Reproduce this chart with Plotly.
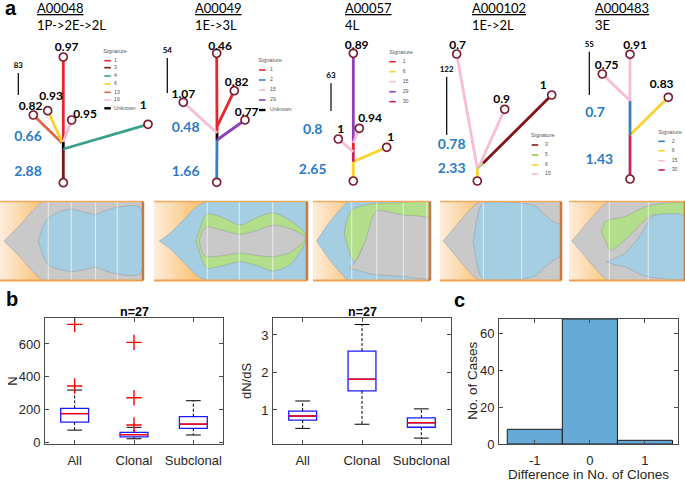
import plotly.graph_objects as go

W, H = 685, 482

# ======================= DATA =======================
# ---- panel b (left): number of mutations ----
box_categories = ["All", "Clonal", "Subclonal"]
n_q1 = [122, 32, 84]
n_median = [174, 45, 110]
n_q3 = [206, 59, 155]
n_lower = [73, 20, 43]
n_upper = [318, 90, 253]
n_outliers = [[343, 720], [104, 271, 610], []]

# ---- panel b (right): dN/dS ----
dnds_q1 = [0.73, 1.51, 0.54]
dnds_median = [0.84, 1.82, 0.66]
dnds_q3 = [0.97, 2.57, 0.79]
dnds_lower = [0.51, 0.62, 0.25]
dnds_upper = [1.24, 3.28, 1.03]

# ---- panel c: histogram ----
clone_diff = [-1, 0, 1]
n_cases = [8, 68, 2]

# ---- panel a: trees (local layout units) ----
tree_ids = ["A00048", "A00049", "A00057", "A000102", "A000483"]
tree_paths = ["1P->2E->2L", "1E->3L", "4L", "1E->2L", "3E"]

tree1_edges = [(63.3, 7.3, 63.3, 41, "3"), (63.3, 41, 63.3, 48.3, "Unknown"),
               (63.3, 48.3, 63.3, 133, "1"), (63.3, 41, 148, 65.7, "4"),
               (62, 47, 33.3, 75, "13"), (62, 48, 47.7, 79.3, "6"),
               (63.3, 48.3, 71.7, 70, "16")]
tree1_nodes = [(63.3, 7.3), (63.3, 133), (148, 65.7), (33.3, 75), (47.7, 79.3), (71.7, 70)]
tree1_labels = [("0.97", 66.7, 142.3), ("1", 143.3, 84), ("0.82", 30.5, 83),
                ("0.93", 51, 92.7), ("0.95", 85, 75)]
tree1_scale = ("83", 18.3, 95, 117)
tree1_blue = [("0.66", 28, 53), ("2.88", 28, 18)]
tree1_sigs = ["1", "3", "4", "6", "13", "16", "Unknown"]
tree1_legend_rows = [129.3, 122.3, 114, 106, 97.7, 90, 81.7]

tree2_edges = [(56.7, 7.7, 57, 50, "2"), (57, 50, 57, 57, "Unknown"),
               (57, 57, 56.7, 136.7, "1"), (57, 63.3, 74.3, 99.3, "1"),
               (57, 57, 23.3, 87.7, "15"), (57, 50, 85, 70, "29")]
tree2_nodes = [(56.7, 7.7), (56.7, 136.7), (74.3, 99.3), (23.3, 87.7), (85, 70)]
tree2_labels = [("0.46", 60, 143.3), ("0.82", 76.7, 106.7), ("1.07", 23.3, 95), ("0.77", 86.7, 77.3)]
tree2_scale = ("54", 7.3, 97, 132)
tree2_blue = [("0.48", 25.7, 62), ("1.66", 25.7, 18)]
tree2_sigs = ["1", "2", "15", "29", "Unknown"]
tree2_legend_rows = [120, 110, 100, 90, 80]

tree3_edges = [(53.3, 9, 53.3, 28.3, "6"), (53.3, 28.3, 86.7, 42.7, "6"),
               (53.3, 28.3, 53.3, 38.3, "30"), (53.3, 38.3, 53.3, 47, "1"),
               (53.3, 38.3, 38.3, 51, "15"), (53.3, 47, 53.3, 136.7, "29"),
               (53.3, 47, 59.3, 61.7, "15")]
tree3_nodes = [(53.3, 9), (86.7, 42.7), (38.3, 51), (53.3, 136.7), (59.3, 61.7)]
tree3_labels = [("1", 90.7, 51.7), ("1", 40.7, 60), ("0.89", 56.7, 144.3), ("0.94", 70, 71)]
tree3_scale = ("63", 31, 79, 106.7)
tree3_blue = [("0.8", 12.7, 59.3), ("2.65", 12.7, 19.3)]
tree3_sigs = ["1", "6", "15", "29", "30"]
tree3_legend_rows = [128.3, 118.3, 108.3, 98.3, 88.3]

tree4_edges = [(47.3, 9, 47.3, 21.7, "6"), (47.3, 21.7, 53, 26.7, "5"),
               (53, 26.7, 121.7, 95, "3"), (47.3, 21.7, 26.7, 136, "15"),
               (49, 23.5, 74.7, 80.7, "15")]
tree4_nodes = [(47.3, 9), (121.7, 95), (26.7, 136), (74.7, 80.7)]
tree4_labels = [("0.7", 27.7, 144.3), ("0.9", 71.7, 90), ("1", 113.3, 104)]
tree4_scale = ("122", 16.7, 55, 113.3)
tree4_blue = [("0.78", 21.7, 45), ("2.33", 21.7, 20.7)]
tree4_sigs = ["3", "5", "6", "15"]
tree4_legend_rows = [45, 35, 25, 16]

tree5_edges = [(70, 11, 70, 55, "30"), (70, 55, 108.3, 92.7, "6"),
               (70, 55, 70, 89.3, "2"), (70, 89.3, 70, 135.7, "15"),
               (70, 89.3, 42.3, 116, "15")]
tree5_nodes = [(70, 11), (108.3, 92.7), (70, 135.7), (42.3, 116)]
tree5_labels = [("0.91", 75, 144.3), ("0.75", 46.7, 124.3), ("0.83", 101.7, 105)]
tree5_scale = ("55", 29.3, 95, 138.3)
tree5_blue = [("0.7", 35, 76.7), ("1.43", 39.3, 30)]
tree5_sigs = ["2", "6", "15", "30"]
tree5_legend_rows = [48.7, 39.3, 29.3, 20]

# ---- panel a: fish plots (clone outlines: x, upper edge, lower edge) ----
fish1_layers = [
    ("founder", [4, 10, 20, 30, 38, 43, 143], [39.5, 33.5, 23.5, 12, 4, 0, 0], [39.5, 45.5, 55.5, 67, 75, 79, 79]),
    ("cloneB", [38.3, 41, 44, 48.3, 60, 71.7, 83, 95, 106, 116.7, 140],
     [39.5, 31, 23, 16.8, 10, 7.5, 10.5, 12.8, 9, 5.8, 5.8],
     [39.5, 48, 56, 63.5, 68, 70.2, 68.5, 65.8, 69.5, 72.5, 72.5]),
]
fish2_layers = [
    ("cloneB", [5.3, 16, 29.3, 42.7, 52.7, 153], [39.5, 31.8, 18.5, 5.2, 0, 0], [39.5, 47.2, 60.5, 73.8, 79, 79]),
    ("cloneG", [42, 45, 49, 53.3, 66, 86, 103, 119.3, 136, 151],
     [39.5, 30, 18, 12.5, 15, 23.5, 16, 11.2, 19, 31.8],
     [39.5, 49, 61, 66.8, 65, 60.2, 64, 69.5, 63, 41.8]),
    ("founder", [45.3, 49, 53.3, 66, 86, 103, 119.3, 136, 151],
     [39.5, 28, 25.2, 28, 32.8, 29, 23.5, 27, 35.2],
     [39.5, 53, 55.2, 54.5, 51.8, 54, 55.2, 51, 38.5]),
]
fish3_layers = [
    ("cloneB", [3.7, 12, 22, 30, 35.3, 117], [39.5, 27, 14, 5, 0, 0], [39.5, 52, 65, 74, 79, 79]),
    ("cloneG", [31.3, 33, 35.3, 38.7, 42, 44, 50, 60, 80, 117],
     [31.8, 22, 14, 8.5, 6.5, 5.8, 4, 2, 1.5, 1.5],
     [31.8, 40, 46.8, 56.8, 60.2, 58, 45, 30, 20, 20]),
    ("founder", [36.3, 43.7, 53.7, 60.3, 65.3, 90.3, 117],
     [66.8, 58.5, 35.2, 13.5, 9.2, 13.5, 17.8],
     [66.8, 68.5, 71.5, 73, 73.5, 75, 75.8]),
]
fish4_layers = [
    ("founder", [3.3, 12, 22, 32, 40, 121], [39.5, 29, 17, 6, 0, 0], [39.5, 50, 62, 73, 79, 79]),
    ("cloneB", [33.3, 36, 39, 43.3, 81.7, 95, 105, 113, 120.7],
     [39.5, 22, 8, 1.5, 1.5, 4.5, 13.5, 20, 23.5],
     [39.5, 57, 71, 77.5, 77.5, 74.5, 65.5, 59, 54]),
]
fish5_layers = [
    ("founder", [2.7, 11, 21, 31, 39.3, 116], [39.5, 30, 18, 7, 0, 0], [39.5, 49, 61, 72, 79, 79]),
    ("cloneG", [32, 36, 41, 46, 56, 72.7, 82.7, 116],
     [30.8, 20.2, 17.8, 17, 15.2, 6.8, 3.5, 1.8],
     [30.8, 38.5, 48.5, 46.8, 38.5, 21.8, 13.5, 15.2]),
    ("cloneB", [37.7, 46, 56, 72.7, 82.7, 91, 116],
     [60.2, 56.8, 51.8, 31.8, 15.2, 12.8, 14.5],
     [60.2, 63.5, 65.2, 73.5, 76, 76.8, 76.8]),
]
fish1_samples = [48.3, 71.3, 95.5, 117.3]
fish2_samples = [53.3, 85.3, 118.7]
fish3_samples = [38.7, 63.7, 90.3, 113.7]
fish4_samples = [43.3, 81.7]
fish5_samples = [40.3, 79.3]
fish1_ccf = ["1", "0.97", "0.95", "0.93", "0.82"]
fish2_ccf = ["0.77", "0.46", "1.07", "0.82"]
fish3_ccf = ["1", "1", "0.94", "0.89"]
fish4_ccf = ["0.7", "0.9", "1"]
fish5_ccf = ["0.83", "0.75", "0.91"]
fish1_ccf_x = [45.7, 71, 94.3, 118.3, 145]
fish2_ccf_x = [52.7, 82, 115.3, 142.7]
fish3_ccf_x = [38, 62, 85.3, 113.7]
fish4_ccf_x = [44, 78.3, 115]
fish5_ccf_x = [41, 72.7, 102.7]

# ======================= STYLE =======================
SIG_COLORS = {"1": "#E8262A", "2": "#3B7FC0", "3": "#7F1518", "4": "#3AA08C",
              "5": "#8CCB47", "6": "#F9D22C", "13": "#E0684B", "15": "#F8BDD6",
              "16": "#F8BDD6", "29": "#8F3FB8", "30": "#C8245C", "Unknown": "#000000"}
CLONE_COLORS = {"founder": "#C9C9C9", "cloneB": "#A6CEE3", "cloneG": "#B3DE8C"}
FONT_A = "Lato, 'Open Sans', sans-serif"
FONT_M = "'Liberation Sans', Arial, sans-serif"
AX_COL = "#262626"

tree_frames = [(0, 158), (160, 135), (300, 130), (430, 130), (560, 125)]  # (left px, width px)
tree_title_x = [35, 192.7, 342.7, 470, 592.7]
fish_frames = [(0, 143), (154, 153), (313, 117), (440, 121), (569, 116)]

fig = go.Figure()
layout = dict(width=W, height=H, margin=dict(l=0, r=0, t=0, b=0, autoexpand=False),
              paper_bgcolor="white", plot_bgcolor="rgba(0,0,0,0)", showlegend=False)
annotations, shapes = [], []


def dom_x(a, b):
    return [max(0, a / W), min(1, b / W)]


def dom_y(top, bottom):
    return [max(0, 1 - bottom / H), min(1, 1 - top / H)]


def axname(k):
    return ("x", "y") if k == 1 else (f"x{k}", f"y{k}")


def lkey(k, a):
    return f"{a}axis" if k == 1 else f"{a}axis{k}"


def add(tr, k):
    xa, ya = axname(k)
    tr.update(xaxis=xa, yaxis=ya, hoverinfo="skip")
    fig.add_trace(tr)


# ======================= PANEL B / C =======================
def std_axes(k, xd, yd, xr, yr, xt, xtt, yt):
    common = dict(showline=True, linecolor="#4a4a4a", linewidth=1, mirror="allticks",
                  ticks="inside", ticklen=4, tickcolor="#4a4a4a", showgrid=False, zeroline=False,
                  tickfont=dict(family=FONT_M, size=13, color=AX_COL), fixedrange=True,
                  automargin=False)
    layout[lkey(k, "x")] = dict(domain=xd, anchor=axname(k)[1], range=xr, tickvals=xt,
                                ticktext=xtt, ticklabelstandoff=4, **common)
    layout[lkey(k, "y")] = dict(domain=yd, anchor=axname(k)[0], range=yr, tickvals=yt,
                                ticklabelstandoff=1, **common)


BOX_W = 0.47
CAP = 0.125


def boxplot(k, q1, med, q3, lo, hi, outl):
    for i in range(len(box_categories)):
        xp = i + 1
        add(go.Scatter(x=[xp, xp, None, xp, xp], y=[q3[i], hi[i], None, q1[i], lo[i]], mode="lines",
                       line=dict(color="black", width=1, dash="3px,2px")), k)
        add(go.Scatter(x=[xp - CAP, xp + CAP, None, xp - CAP, xp + CAP],
                       y=[hi[i], hi[i], None, lo[i], lo[i]], mode="lines",
                       line=dict(color="black", width=1)), k)
        add(go.Box(x=[xp], q1=[q1[i]], median=[med[i]], q3=[q3[i]], lowerfence=[q1[i]],
                   upperfence=[q3[i]], width=BOX_W, whiskerwidth=0, boxpoints=False,
                   fillcolor="rgba(255,255,255,0)", line=dict(color="#1a1aff", width=1.3)), k)
        add(go.Scatter(x=[xp - BOX_W / 2, xp + BOX_W / 2], y=[med[i], med[i]], mode="lines",
                       line=dict(color="#ff0000", width=1.4)), k)
        if outl[i]:
            add(go.Scatter(x=[xp] * len(outl[i]), y=outl[i], mode="markers",
                           marker=dict(symbol="cross-thin", size=11,
                                       line=dict(color="#ff0000", width=1.4))), k)


boxplot(1, n_q1, n_median, n_q3, n_lower, n_upper, n_outliers)
std_axes(1, dom_x(45, 223), dom_y(318, 444), [0.5, 3.5], [-12, 759], [1, 2, 3], box_categories, [0, 200, 400, 600])
boxplot(2, dnds_q1, dnds_median, dnds_q3, dnds_lower, dnds_upper, [[], [], []])
std_axes(2, dom_x(273, 451), dom_y(318, 444), [0.5, 3.5], [0.093, 3.453], [1, 2, 3], box_categories, [1, 2, 3])

add(go.Bar(x=clone_diff, y=n_cases, width=1, marker=dict(color="#66AAD7", line=dict(color="#1a1a1a", width=1))), 3)
std_axes(3, dom_x(499, 678), dom_y(319, 444), [-1.65, 1.6], [0, 68], clone_diff, [str(v) for v in clone_diff], [0, 20, 40, 60])


def ann(text, px, py, size, family=FONT_M, color=AX_COL, angle=0, xanchor="center", bold=False):
    t = f"<b>{text}</b>" if bold else text
    annotations.append(dict(text=t, x=px / W, y=1 - py / H, xref="paper", yref="paper",
                            xanchor=xanchor, yanchor="middle", showarrow=False, textangle=angle,
                            font=dict(family=family, size=size, color=color)))


ann("n=27", 134, 311.5, 12.5, bold=True, color="black")
ann("n=27", 362, 311.5, 12.5, bold=True, color="black")
ann("N", 11.7, 381, 13, angle=-90)
ann("dN/dS", 246, 381, 13, angle=-90)
ann("No. of Cases", 471.7, 381, 13.5, angle=-90)
ann("Difference in No. of Clones", 588.5, 474.5, 13.5)
ann("a", 3, 8, 20, family="'Liberation Sans', Arial", color="black", xanchor="left", bold=True)
ann("b", 4, 299, 20, family="'Liberation Sans', Arial", color="black", xanchor="left", bold=True)
ann("c", 452, 300, 20, family="'Liberation Sans', Arial", color="black", xanchor="left", bold=True)

# ======================= PANEL A: TREES =======================
trees = [
    (tree1_edges, tree1_nodes, tree1_labels, tree1_scale, tree1_blue, tree1_sigs, tree1_legend_rows, (103.3, 104.3, 114)),
    (tree2_edges, tree2_nodes, tree2_labels, tree2_scale, tree2_blue, tree2_sigs, tree2_legend_rows, (98.3, 99, 110)),
    (tree3_edges, tree3_nodes, tree3_labels, tree3_scale, tree3_blue, tree3_sigs, tree3_legend_rows, (89.3, 89.3, 102.7)),
    (tree4_edges, tree4_nodes, tree4_labels, tree4_scale, tree4_blue, tree4_sigs, tree4_legend_rows, (101, 101.7, 115)),
    (tree5_edges, tree5_nodes, tree5_labels, tree5_scale, tree5_blue, tree5_sigs, tree5_legend_rows, (98.3, 98.3, 111.7)),
]

for ti, (edges, nodes, labels, scale, blue, sigs, rows, leg) in enumerate(trees):
    k = 4 + ti
    left, w = tree_frames[ti]
    layout[lkey(k, "x")] = dict(domain=dom_x(left, left + w), anchor=f"y{k}", range=[0, w],
                                visible=False, fixedrange=True)
    layout[lkey(k, "y")] = dict(domain=dom_y(40, 190), anchor=f"x{k}", range=[0, 150],
                                visible=False, fixedrange=True)
    for (x1, y1, x2, y2, s) in edges:
        add(go.Scatter(x=[x1, x2], y=[y1, y2], mode="lines",
                       line=dict(color=SIG_COLORS[s], width=2.8)), k)
    add(go.Scatter(x=[n[0] for n in nodes], y=[n[1] for n in nodes], mode="markers",
                   marker=dict(symbol="circle", size=8, color="white",
                               line=dict(color="#7B1E32", width=1.7))), k)
    add(go.Scatter(x=[l[1] for l in labels], y=[l[2] for l in labels],
                   text=[f"<b>{l[0]}</b>" for l in labels], mode="text", cliponaxis=False,
                   textfont=dict(family=FONT_A, size=12, color="black")), k)
    add(go.Scatter(x=[b[1] for b in blue], y=[b[2] for b in blue],
                   text=[f"<b>{b[0]}</b>" for b in blue], mode="text", cliponaxis=False,
                   textfont=dict(family=FONT_A, size=14, color="#2B7BC4")), k)
    lab, sx, sy0, sy1 = scale
    add(go.Scatter(x=[sx, sx], y=[sy0, sy1], mode="lines", line=dict(color="black", width=1.2)), k)
    add(go.Scatter(x=[sx], y=[sy1 + 7], text=[f"<b>{lab}</b>"], mode="text", cliponaxis=False,
                   textfont=dict(family=FONT_A, size=8, color="black")), k)
    tx, lx, txt_x = leg
    add(go.Scatter(x=[tx], y=[rows[0] + 9], text=["Signature"], mode="text", cliponaxis=False,
                   textposition="middle right",
                   textfont=dict(family=FONT_M, size=5.5, color="#555555")), k)
    for s, ry in zip(sigs, rows):
        add(go.Scatter(x=[lx, lx + 6.5], y=[ry, ry], mode="lines",
                       line=dict(color=SIG_COLORS[s], width=2.4 if s == "Unknown" else 1.6)), k)
    add(go.Scatter(x=[txt_x] * len(sigs), y=rows, text=sigs, mode="text", cliponaxis=False,
                   textposition="middle right",
                   textfont=dict(family=FONT_M, size=5.2, color="#555555")), k)
    # titles
    annotations.append(dict(text=f"<u>{tree_ids[ti]}</u>", x=tree_title_x[ti] / W, y=1 - 8 / H,
                            xref="paper", yref="paper", xanchor="left", yanchor="middle",
                            showarrow=False, font=dict(family=FONT_A, size=13, color="black")))
    annotations.append(dict(text=tree_paths[ti], x=tree_title_x[ti] / W, y=1 - 24.5 / H,
                            xref="paper", yref="paper", xanchor="left", yanchor="middle",
                            showarrow=False, font=dict(family=FONT_A, size=13, color="black")))

# ======================= PANEL A: FISH PLOTS =======================
fishes = [
    (fish1_layers, fish1_samples, fish1_ccf, fish1_ccf_x),
    (fish2_layers, fish2_samples, fish2_ccf, fish2_ccf_x),
    (fish3_layers, fish3_samples, fish3_ccf, fish3_ccf_x),
    (fish4_layers, fish4_samples, fish4_ccf, fish4_ccf_x),
    (fish5_layers, fish5_samples, fish5_ccf, fish5_ccf_x),
]
FH = 79
pale = (254, 236, 217)
orange = (251, 198, 122)
NSTRIP = 14
GRAD_W = 42

for fi, (layers, samples, ccf, ccf_x) in enumerate(fishes):
    k = 9 + fi
    left, w = fish_frames[fi]
    layout[lkey(k, "x")] = dict(domain=dom_x(left, left + w), anchor=f"y{k}", range=[0, w],
                                visible=False, fixedrange=True)
    layout[lkey(k, "y")] = dict(domain=dom_y(201.5, 201.5 + FH), anchor=f"x{k}", range=[FH, 0],
                                visible=False, fixedrange=True)
    # background gradient
    for s in range(NSTRIP):
        f = s / (NSTRIP - 1)
        c = tuple(int(pale[j] + (orange[j] - pale[j]) * f) for j in range(3))
        x0 = GRAD_W * s / NSTRIP
        x1 = GRAD_W * (s + 1) / NSTRIP if s < NSTRIP - 1 else w
        shapes.append(dict(type="rect", xref=f"x{k}", yref=f"y{k} domain", x0=x0, x1=x1, y0=0, y1=1,
                           fillcolor=f"rgb{c}", line=dict(width=0), layer="below"))
    for (clone, xs, top, bot) in layers:
        px = list(xs) + list(xs[::-1]) + [xs[0]]
        py = list(top) + list(bot[::-1]) + [top[0]]
        add(go.Scatter(x=px, y=py, mode="lines", fill="toself", fillcolor=CLONE_COLORS[clone],
                       line=dict(color="rgba(130,130,130,0.6)", width=0.6, shape="spline", smoothing=0.7)), k)
    for sx in samples:
        add(go.Scatter(x=[sx, sx], y=[0, FH], mode="lines",
                       line=dict(color="rgba(255,255,255,0.6)", width=1.1)), k)
    add(go.Scatter(x=ccf_x, y=[-4.5] * len(ccf_x), text=ccf, mode="text", cliponaxis=False,
                   textfont=dict(family=FONT_A, size=11.5, color="#1a1a1a")), k)
    # frame
    shapes.append(dict(type="line", xref=f"x{k} domain", yref=f"y{k} domain", x0=0, x1=1, y0=1, y1=1,
                       line=dict(color="#F3A85C", width=1.5), layer="above"))
    shapes.append(dict(type="line", xref=f"x{k} domain", yref=f"y{k} domain", x0=0, x1=1, y0=0, y1=0,
                       line=dict(color="#F0A050", width=2), layer="above"))
    shapes.append(dict(type="line", xref=f"x{k} domain", yref=f"y{k} domain", x0=1, x1=1, y0=0, y1=1,
                       line=dict(color="#C9783C", width=2.5), layer="above"))

layout["annotations"] = annotations
layout["shapes"] = shapes
fig.update_layout(**layout)
fig.write_html("out.html", config={"displayModeBar": False, "staticPlot": True},
               post_script="document.body.style.margin='0';document.body.style.overflow='hidden';")
